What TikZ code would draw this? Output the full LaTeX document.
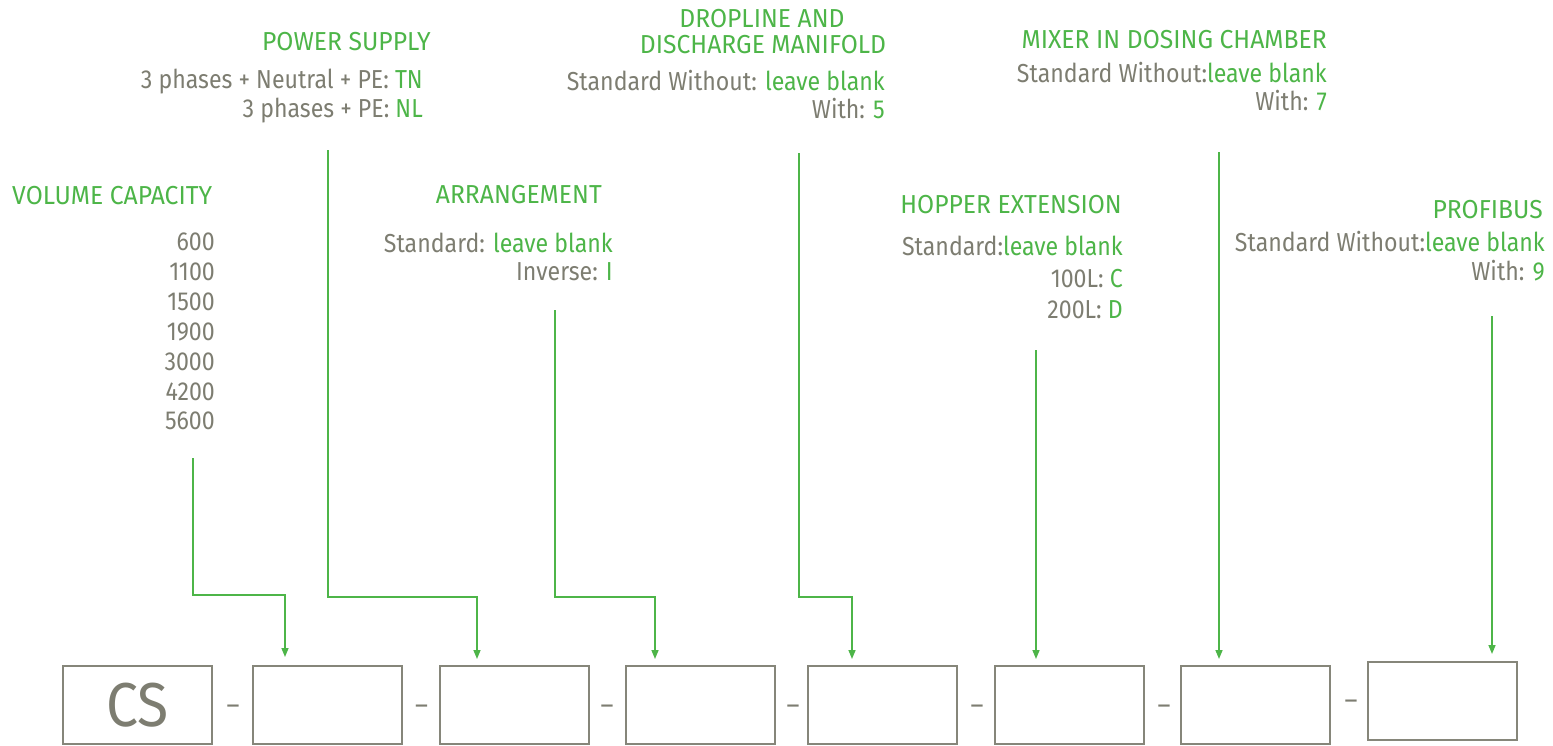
\documentclass[tikz,border=0pt]{standalone}
\usepackage{fontspec}
\setmainfont{Fira Sans}[FakeStretch=0.92]
\newfontfamily\ttlfont{Fira Sans}[FakeStretch=0.95]
\newfontfamily\lblfont{Fira Sans}[FakeStretch=0.89]
\usetikzlibrary{arrows.meta}
\definecolor{grn}{RGB}{77,181,72}
\definecolor{gry}{RGB}{125,125,113}
\definecolor{bxc}{RGB}{134,134,122}
\begin{document}
\begin{tikzpicture}[x=1pt,y=-1pt,
  lbl/.style={inner sep=0,anchor=base east,text=gry,font=\lblfont\fontsize{26}{30}\selectfont},
  ttl/.style={lbl,text=grn,font=\ttlfont\fontsize{26}{30}\selectfont},
  ctl/.style={ttl,anchor=base},
  box/.style={draw=bxc,line width=2pt,minimum width=149pt,minimum height=78pt,inner sep=0,text=gry,font=\fontsize{62}{70}\selectfont},
  sep/.style={inner sep=0,anchor=base,text=gry,font=\fontsize{27}{30}\selectfont},
  arr/.style={draw=grn,line width=1.5pt,-{Triangle[width=7pt,length=9pt]}}]
\useasboundingbox (0,0) rectangle (1553,745);

% boxes
\node[box] (b1) at (137.5,705) {CS};
\node[box] (b2) at (327,705) {};
\node[box] (b3) at (514.5,705) {};
\node[box] (b4) at (700,705) {};
\node[box] (b5) at (882.5,705) {};
\node[box] (b6) at (1069.5,705) {};
\node[box] (b7) at (1255,705) {};
\node[box] (b8) at (1442,700.5) {};

% separators
\node[sep] (d1) at (233,714) {–};
\node[sep] (d2) at (421.5,714) {–};
\node[sep] (d3) at (607,714) {–};
\node[sep] (d4) at (793,714) {–};
\node[sep] (d5) at (977,714) {–};
\node[sep] (d6) at (1164,714) {–};
\node[sep] (d7) at (1351,709.5) {–};

% volume capacity
\node[ttl,anchor=base west] (vc) at (12,204) {VOLUME CAPACITY};
\node[lbl] (v1) at (215,250) {600};
\node[lbl] (v2) at (215,280) {1100};
\node[lbl] (v3) at (215,310) {1500};
\node[lbl] (v4) at (215,340) {1900};
\node[lbl] (v5) at (215,370) {3000};
\node[lbl] (v6) at (215,400) {4200};
\node[lbl] (v7) at (215,429) {5600};

% power supply
\node[ttl] (ps) at (431,50) {POWER SUPPLY};
\node[lbl] (p1) at (423,88) {3 phases + Neutral + PE: \textcolor{grn}{TN}};
\node[lbl] (p2) at (423,117) {3 phases + PE: \textcolor{grn}{NL}};

% arrangement
\node[ttl] (ar) at (602,203) {ARRANGEMENT};
\node[lbl] (r1) at (613,252) {Standard: \textcolor{grn}{leave blank}};
\node[lbl] (r2) at (613,280) {Inverse: \textcolor{grn}{I}};

% dropline
\node[ctl] (dl1) at (762,27) {DROPLINE AND};
\node[ctl] (dl2) at (763,53) {DISCHARGE MANIFOLD};
\node[lbl] (o1) at (885,90) {Standard Without: \textcolor{grn}{leave blank}};
\node[lbl] (o2) at (885,118) {With: \textcolor{grn}{5}};

% hopper
\node[ttl] (hx) at (1122,213) {HOPPER EXTENSION};
\node[lbl] (h1) at (1123,255) {Standard:\textcolor{grn}{leave blank}};
\node[lbl] (h2) at (1123,287) {100L: \textcolor{grn}{C}};
\node[lbl] (h3) at (1123,318) {200L: \textcolor{grn}{D}};

% mixer
\node[ttl] (mx) at (1327,48) {MIXER IN DOSING CHAMBER};
\node[lbl] (m1) at (1327,82) {Standard Without:\textcolor{grn}{leave blank}};
\node[lbl] (m2) at (1327,110) {With: \textcolor{grn}{7}};

% profibus
\node[ttl] (pb) at (1543,218) {PROFIBUS};
\node[lbl] (f1) at (1545,251) {Standard Without:\textcolor{grn}{leave blank}};
\node[lbl] (f2) at (1545,280) {With: \textcolor{grn}{9}};

% connector ends
\coordinate (s1) at (193,458); \coordinate (k1) at (285,595); \coordinate (e1) at (285,657);
\coordinate (s2) at (328,150); \coordinate (k2) at (477,597); \coordinate (e2) at (477,659);
\coordinate (s3) at (555,310); \coordinate (k3) at (655,597); \coordinate (e3) at (655,659);
\coordinate (s4) at (799,153); \coordinate (k4) at (852,597); \coordinate (e4) at (852,659);
\coordinate (s5) at (1036,350); \coordinate (e5) at (1036,659);
\coordinate (s6) at (1219,152); \coordinate (e6) at (1219,659);
\coordinate (s7) at (1492,316); \coordinate (e7) at (1492,654);

\draw[arr] (s1) |- (k1) -- (e1);
\draw[arr] (s2) |- (k2) -- (e2);
\draw[arr] (s3) |- (k3) -- (e3);
\draw[arr] (s4) |- (k4) -- (e4);
\draw[arr] (s5) -- (e5);
\draw[arr] (s6) -- (e6);
\draw[arr] (s7) -- (e7);
\end{tikzpicture}
\end{document}
